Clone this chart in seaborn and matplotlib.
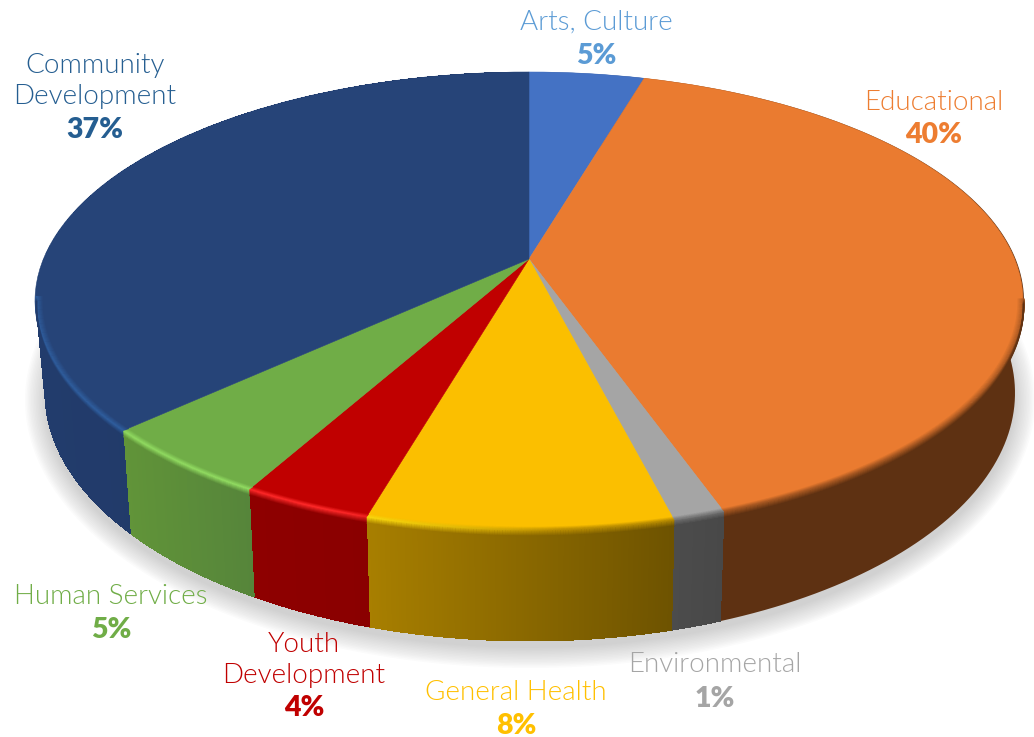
import numpy as np
import matplotlib
matplotlib.use("Agg")
import matplotlib.pyplot as plt
import matplotlib.colors as mcolors
import matplotlib.transforms as mtransforms
from matplotlib.collections import LineCollection, PolyCollection
from matplotlib.path import Path
import seaborn as sns

# shares, labels as printed
categories = ["Arts, Culture", "Educational", "Environmental", "General Health",
              "Youth\nDevelopment", "Human Services", "Community\nDevelopment"]
shares = [4.5, 40.12, 1.43, 8.4, 3.6, 5.05, 36.9]
pct_labels = ["5%", "40%", "1%", "8%", "4%", "5%", "37%"]

face_colors = ["#4472C4", "#EA7B30", "#A5A5A5", "#FBBF00", "#C00000", "#70AD47", "#264478"]
wall_left = ["#2A4880", "#5E3112", "#4C4C4C", "#A87F00", "#8E0000", "#619439", "#223C6C"]
wall_right = ["#2A4880", "#5E3112", "#484848", "#6E5300", "#8A0000", "#56853A", "#1F3562"]
rim_light = ["#5B8BE0", "#EA7B30", "#A5A5A5", "#FFE010", "#FF2A2A", "#92DC62", "#2F5E9E"]
text_colors = ["#5B9BD5", "#ED7D31", "#A5A5A5", "#FFC000", "#C00000", "#70AD47", "#255E91"]

# label centres in image pixels (name block, percent)
name_xy = [(596, 22), (934, 102), (715, 665), (516, 692), (304, 660), (111, 596), (95, 81)]
pct_xy = [(596, 56), (934, 135), (715, 699), (516, 726), (304, 708), (111, 630), (95, 130)]

# pie geometry in pixels
APEX_X, APEX_Y = 529, 259
RX_APEX = 485.6
PERSP_K, PERSP_P = 0.1834, 173.8
TOP = (530, 301, 494, 229)
BOTTOM = (530, 393, 485, 248)


class TiltTransform(mtransforms.Transform):
    # unit disc -> tilted pie top, with perspective
    input_dims = 2
    output_dims = 2

    def transform_non_affine(self, values):
        values = np.asarray(values)
        d = 1 + PERSP_K * values[:, 1]
        return np.column_stack([APEX_X + RX_APEX * values[:, 0] / d,
                                (APEX_Y - PERSP_P * values[:, 1]) / d])

    def transform_path_non_affine(self, path):
        return Path(self.transform_non_affine(path.vertices), path.codes)


def ell_point(phi, geom):
    return geom[0] + geom[2] * np.cos(phi), geom[1] + geom[3] * np.sin(phi)


def blend(c1, c2, t):
    return (1 - t) * np.array(mcolors.to_rgb(c1)) + t * np.array(mcolors.to_rgb(c2))


def slice_phis(start, stop, n=120):
    # share position -> angle on the drawn ellipse
    theta = np.linspace(start, stop, n) / 100 * 2 * np.pi
    d = 1 + PERSP_K * np.cos(theta)
    x = APEX_X + RX_APEX * np.sin(theta) / d
    y = (APEX_Y - PERSP_P * np.cos(theta)) / d
    return np.arctan2((y - TOP[1]) / TOP[3], (x - TOP[0]) / TOP[2])


sns.set_theme(style="white")
plt.rcParams["font.family"] = ["Lato", "DejaVu Sans"]

fig = plt.figure(figsize=(10.34, 7.37), dpi=100)
ax = fig.add_axes([0, 0, 1, 1])

palette = sns.color_palette(face_colors)
wedges, _ = ax.pie(shares, colors=palette, startangle=90, counterclock=False, radius=1)
ax.set_aspect("auto")
ax.set_xlim(0, 1034)
ax.set_ylim(737, 0)
ax.axis("off")

tilt = TiltTransform() + ax.transData
for w, c in zip(wedges, palette):
    w.set_transform(tilt)
    w.set_edgecolor(c)
    w.set_linewidth(0.4)
    w.set_zorder(3)

# soft shadow under the pie
phi_all = np.linspace(0, 2 * np.pi, 300)
for grow in np.linspace(20, 0, 14):
    sx = BOTTOM[0] + (BOTTOM[2] + grow) * np.cos(phi_all)
    sy = BOTTOM[1] + 7 + (BOTTOM[3] + grow) * np.sin(phi_all)
    ax.fill(sx, sy, color="#909090", alpha=0.03, lw=0, zorder=1)

# side wall and rim of every slice
edges = np.concatenate([[0], np.cumsum(shares)])
for i in range(len(shares)):
    phis = np.unwrap(slice_phis(edges[i], edges[i + 1]))
    tx, ty = ell_point(phis, TOP)
    bx, by = ell_point(phis, BOTTOM)

    # solid base first, so the gradient strips leave no seams
    base = blend(wall_left[i], wall_right[i], 0.5)
    ax.fill(np.r_[tx, bx[::-1]], np.r_[ty, by[::-1]], color=base, lw=0, zorder=1.5)

    quads = []
    cols = []
    xa, xb = bx.min(), bx.max()
    for j in range(len(phis) - 1):
        quads.append([(tx[j], ty[j]), (tx[j + 1], ty[j + 1]), (bx[j + 1], by[j + 1]), (bx[j], by[j])])
        t = (bx[j] - xa) / max(xb - xa, 1)
        cols.append(blend(wall_left[i], wall_right[i], t))
    if wall_left[i] != wall_right[i]:
        ax.add_collection(PolyCollection(quads, facecolors=cols, edgecolors="none", linewidths=0,
                                         antialiased=False, zorder=2))

    # bevel: face colour -> highlight -> wall colour, highlight dies out to the right
    levels = np.linspace(-1, 1, 13)
    for s in levels:
        if s < 0:
            sc = 1 + s * 0.014
            g = (TOP[0], TOP[1], TOP[2] * sc, TOP[3] * sc)
        else:
            m = s * 0.055
            g = tuple(TOP[k] * (1 - m) + BOTTOM[k] * m for k in range(4))
        rx, ry = ell_point(phis, g)
        segs = [[(rx[j], ry[j]), (rx[j + 1], ry[j + 1])] for j in range(len(phis) - 1)]
        seg_cols = []
        for j in range(len(phis) - 1):
            if np.sin(phis[j]) < -0.02:
                seg_cols.append((0, 0, 0, 0))
                continue
            h = np.clip((560 - rx[j]) / 220, 0, 1)
            wall_c = blend(wall_left[i], wall_right[i], (bx[j] - xa) / max(xb - xa, 1))
            mid = blend(blend(face_colors[i], wall_c, 0.5), rim_light[i], h)
            if s < 0:
                rgb = blend(mid, face_colors[i], -s)
            else:
                rgb = blend(mid, wall_c, s)
            seg_cols.append((*rgb, 1))
        ax.add_collection(LineCollection(segs, colors=seg_cols, linewidths=1.1, zorder=4))

# labels
for name, pct, nxy, pxy, col in zip(categories, pct_labels, name_xy, pct_xy, text_colors):
    ax.text(nxy[0], nxy[1], name, color=col, fontsize=20, fontweight=300,
            ha="center", va="center", linespacing=1.28, zorder=5)
    ax.text(pxy[0], pxy[1], pct, color=col, fontsize=20.5, fontweight=800,
            ha="center", va="center", zorder=5)

fig.savefig("out.png", dpi=100, facecolor="white")
